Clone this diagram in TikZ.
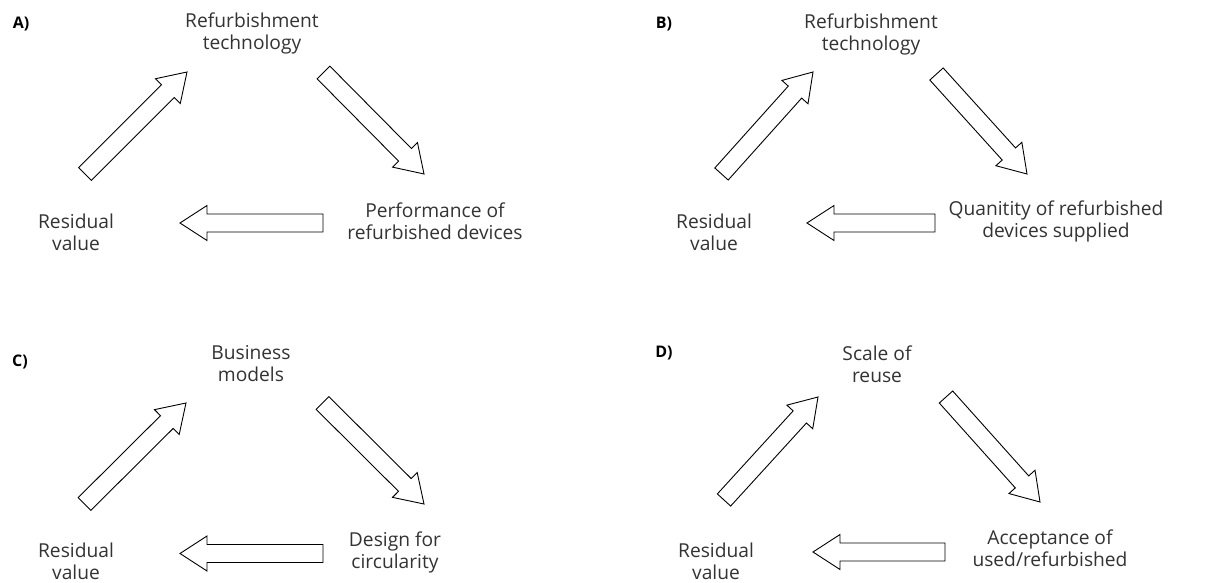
\documentclass[tikz,border=0pt]{standalone}
\usepackage{fontspec}
\setmainfont{Open Sans}
\usetikzlibrary{calc}
\tikzset{
	factor/.style={align=center, font=\fontsize{9.6}{11}\selectfont, text=black!80, inner sep=0pt},
	panel/.style={font=\fontsize{8}{10}\selectfont\bfseries, inner sep=0pt},
	blockarrow/.style={draw=black, line width=0.45pt, fill=white, line join=miter}
}
% hollow block arrow from #1 (tail) to #2 (tip)
\newcommand{\blockarrow}[2]{%
	\coordinate (h) at ($(#2)!13.5pt!(#1)$);
	\draw[blockarrow] ($(#1)!4.5pt!90:(#2)$) -- ($(h)!4.5pt!90:(#2)$) -- ($(h)!8.75pt!90:(#2)$)
		-- (#2) -- ($(h)!8.75pt!-90:(#2)$) -- ($(h)!4.5pt!-90:(#2)$) -- ($(#1)!4.5pt!-90:(#2)$) -- cycle;}

\begin{document}
\begin{tikzpicture}[x=0.5pt,y=-0.5pt]
	\useasboundingbox (0,0) rectangle (1222,583);
	% Panel A
	\node[panel] (labA) at (21,24) {A)};
	\node[factor] (topA) at (252,33) {Refurbishment\\technology};
	\node[factor] (resA) at (76,232) {Residual\\value};
	\node[factor] (rightA) at (435,221) {Performance of\\refurbished devices};
	\coordinate (a1) at (85,174); \coordinate (a2) at (187,72);
	\coordinate (a3) at (323.5,72.5); \coordinate (a4) at (424,174);
	\coordinate (a5) at (323,223); \coordinate (a6) at (180,223);
	\blockarrow{a1}{a2} \blockarrow{a3}{a4} \blockarrow{a5}{a6}
	% Panel B
	\node[panel] (labB) at (664,24) {B)};
	\node[factor] (topB) at (871,34) {Refurbishment\\technology};
	\node[factor] (resB) at (714,232) {Residual\\value};
	\node[factor] (rightB) at (1056,221) {Quanitity of refurbished\\devices supplied};
	\coordinate (b1) at (721.5,174); \coordinate (b2) at (813,72);
	\coordinate (b3) at (936.5,74); \coordinate (b4) at (1027,174);
	\coordinate (b5) at (935,223); \coordinate (b6) at (807,223);
	\blockarrow{b1}{b2} \blockarrow{b3}{b4} \blockarrow{b5}{b6}
	% Panel C
	\node[panel] (labC) at (20,362) {C)};
	\node[factor] (topC) at (251,364) {Business\\models};
	\node[factor] (resC) at (76,561) {Residual\\value};
	\node[factor] (rightC) at (395,552) {Design for\\circularity};
	\coordinate (c1) at (84.5,504); \coordinate (c2) at (186,403);
	\coordinate (c3) at (322.5,403); \coordinate (c4) at (424,504);
	\coordinate (c5) at (323,553.5); \coordinate (c6) at (180,553.5);
	\blockarrow{c1}{c2} \blockarrow{c3}{c4} \blockarrow{c5}{c6}
	% Panel D
	\node[panel] (labD) at (664,353) {D)};
	\node[factor] (topD) at (877,364) {Scale of\\reuse};
	\node[factor] (resD) at (716,561) {Residual\\value};
	\node[factor] (rightD) at (1050,548) {Acceptance of\\used/refurbished};
	\coordinate (d1) at (724,500); \coordinate (d2) at (818,397);
	\coordinate (d3) at (946,397); \coordinate (d4) at (1040,502);
	\coordinate (d5) at (945,552); \coordinate (d6) at (813,552);
	\blockarrow{d1}{d2} \blockarrow{d3}{d4} \blockarrow{d5}{d6}
\end{tikzpicture}
\end{document}
